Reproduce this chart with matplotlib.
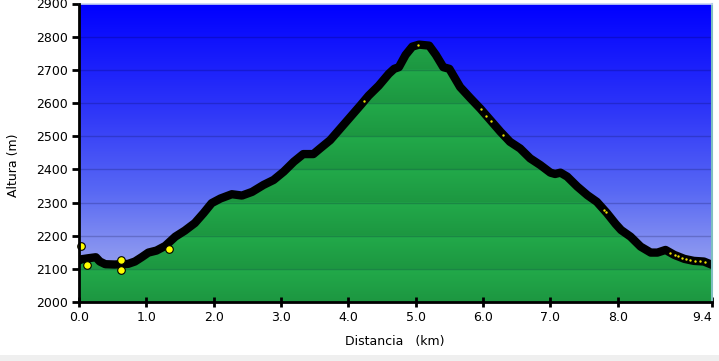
import numpy as np
import matplotlib
matplotlib.use("Agg")
import matplotlib.pyplot as plt
from matplotlib.colors import LinearSegmentedColormap
from matplotlib.patches import Rectangle

# ---------------- data ----------------
dist_km = [0.00, 0.04, 0.14, 0.25, 0.31, 0.39, 0.53, 0.73, 0.83, 0.93,
           1.03, 1.15, 1.28, 1.43, 1.57, 1.72, 1.85, 1.97, 2.10, 2.27,
           2.42, 2.57, 2.74, 2.89, 3.04, 3.19, 3.33, 3.48, 3.58, 3.73,
           3.88, 4.03, 4.18, 4.30, 4.45, 4.60, 4.68, 4.75, 4.85, 4.95,
           5.05, 5.20, 5.30, 5.41, 5.50, 5.66, 5.81, 5.96, 6.11, 6.26,
           6.40, 6.55, 6.70, 6.85, 7.00, 7.07, 7.15, 7.25, 7.40, 7.55,
           7.69, 7.84, 7.97, 8.05, 8.19, 8.34, 8.49, 8.59, 8.71, 8.84,
           8.99, 9.13, 9.28, 9.40]
elev_m = [2125, 2129, 2132, 2135, 2122, 2114, 2113, 2115, 2122, 2135,
          2149, 2155, 2169, 2197, 2215, 2238, 2268, 2298, 2312, 2325,
          2321, 2332, 2353, 2368, 2393, 2423, 2446, 2446, 2463, 2488,
          2523, 2558, 2593, 2622, 2652, 2688, 2703, 2708, 2745, 2770,
          2776, 2773, 2745, 2708, 2703, 2648, 2615, 2583, 2548, 2513,
          2483, 2463, 2433, 2413, 2390, 2386, 2390, 2378, 2348, 2322,
          2302, 2268, 2235, 2217, 2197, 2167, 2149, 2149, 2157, 2142,
          2130, 2124, 2122, 2112]

# yellow waypoints (km, m)
wp_km = [0.03, 0.12, 0.62, 0.62, 1.33]
wp_m = [2170, 2111, 2127, 2096, 2161]

# small yellow specks along the track (km)
speck_km = [4.23, 5.03, 5.97, 6.05, 6.12, 6.30, 7.80, 7.83, 8.78, 8.85,
            8.90, 8.95, 9.02, 9.08, 9.15, 9.22, 9.30]

x_ticks = [0, 1, 2, 3, 4, 5, 6, 7, 8, 9.4]
x_tick_labels = ["0.0", "1.0", "2.0", "3.0", "4.0", "5.0", "6.0", "7.0", "8.0", "9.4"]
y_ticks = [2000, 2100, 2200, 2300, 2400, 2500, 2600, 2700, 2800, 2900]

# ---------------- figure ----------------
W, H = 719, 361
fig = plt.figure(figsize=(W / 100, H / 100), dpi=100)
fig.patch.set_facecolor("white")
fig.patches.append(Rectangle((0, 0), 1, 6 / H, transform=fig.transFigure,
                             facecolor="#efefef", edgecolor="none", zorder=0))

ax = fig.add_axes([79 / W, (H - 302) / H, (712 - 79) / W, (302 - 3.5) / H])
x0, x1 = 0, 9.4
y0, y1 = 2000, 2900

# blue background gradient (top = deep blue)
blue = LinearSegmentedColormap.from_list("bg", [
    (0.0, (0 / 255, 0 / 255, 255 / 255)),
    (0.37, (48 / 255, 56 / 255, 248 / 255)),
    (0.63, (88 / 255, 104 / 255, 244 / 255)),
    (0.83, (136 / 255, 148 / 255, 240 / 255)),
    (1.0, (158 / 255, 168 / 255, 238 / 255)),
])
grad = np.linspace(0, 1, 400).reshape(-1, 1)
ax.imshow(grad, cmap=blue, aspect="auto", extent=[x0, x1, y0, y1],
          origin="upper", zorder=0, interpolation="bilinear")

# green fill with banded gradient
yy = np.linspace(y1, y0, 900)
frac = ((yy - y0) % 100) / 100.0  # 0 at band bottom, 1 at band top
bright = np.array([34, 170, 74]) / 255
dark = np.array([26, 140, 60]) / 255
cols = dark[None, :] + (bright - dark)[None, :] * (0.35 + 0.65 * frac[:, None])
img = cols.reshape(-1, 1, 3)
poly = ax.fill_between(dist_km, elev_m, y0, color="none", zorder=1)
gimg = ax.imshow(img, aspect="auto", extent=[x0, x1, y0, y1], origin="upper",
                 zorder=1, interpolation="bilinear")
path = poly.get_paths()[0]
gimg.set_clip_path(path, transform=ax.transData)
ax.set_xlim(x0, x1)
ax.set_ylim(y0, y1)

# grid lines
for g in y_ticks[1:-1]:
    ax.axhline(g, color="#000030", alpha=0.2, lw=1.0, zorder=2)

# profile line
ax.plot(dist_km, elev_m, color="black", lw=6.0, solid_capstyle="round",
        solid_joinstyle="round", zorder=3)

# specks
speck_m = np.interp(speck_km, dist_km, elev_m)
ax.scatter(speck_km, speck_m, s=3, color="#e8e000", zorder=4, linewidths=0)

# waypoints
ax.scatter(wp_km, wp_m, s=30, color="#ffff00", edgecolor="black",
           linewidths=0.8, zorder=5, clip_on=False)

# spines
for s in ["top", "right"]:
    ax.spines[s].set_visible(False)
ax.spines["left"].set_linewidth(2)
ax.spines["bottom"].set_linewidth(2)
ax.spines["left"].set_zorder(6)
ax.spines["bottom"].set_zorder(6)
ax.plot([1, 1], [0, 1], transform=ax.transAxes, color="#7fbfc0", lw=1.5,
        clip_on=False, zorder=6)
ax.plot([0, 1], [1, 1], transform=ax.transAxes, color="#c8d4f4", lw=1.2,
        clip_on=False, zorder=6)

ax.set_xticks(x_ticks)
ax.set_xticklabels(x_tick_labels)
ax.get_xticklabels()[-1].set_horizontalalignment("right")
ax.set_yticks(y_ticks)
ax.tick_params(axis="x", direction="inout", length=7, width=2, labelsize=9,
               pad=3, colors="black")
ax.tick_params(axis="y", direction="out", length=5, width=2, labelsize=9,
               pad=3, colors="black")

fig.text(395 / W, 1 - 341 / H, "Distancia   (km)", ha="center", va="center",
         fontsize=9)
fig.text(14 / W, 1 - 165 / H, "Altura (m)", ha="center", va="center",
         fontsize=9, rotation=90)

fig.savefig("out.png", dpi=100)
